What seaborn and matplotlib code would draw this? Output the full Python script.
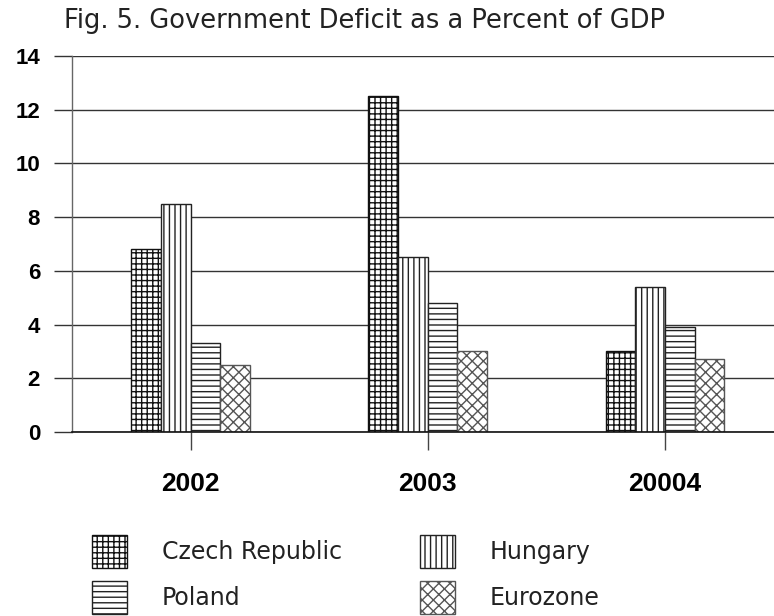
import matplotlib
matplotlib.use("Agg")
import matplotlib.pyplot as plt
import seaborn as sns
import pandas as pd

# Government deficit, % of GDP
years = ["2002", "2003", "20004"]
countries = ["Czech Republic", "Hungary", "Poland", "Eurozone"]
czech = [6.8, 12.5, 3.0]
hungary = [8.5, 6.5, 5.4]
poland = [3.3, 4.8, 3.9]
eurozone = [2.5, 3.0, 2.7]
yticks = [0, 2, 4, 6, 8, 10, 12, 14]

hatches = {"Czech Republic": "+++", "Hungary": "|||", "Poland": "---", "Eurozone": "xxx"}
edges = {"Czech Republic": "#111111", "Hungary": "#222222", "Poland": "#222222", "Eurozone": "#555555"}

series = {"Czech Republic": czech, "Hungary": hungary, "Poland": poland, "Eurozone": eurozone}
df = pd.DataFrame(
    [(y, c, series[c][i]) for c in countries for i, y in enumerate(years)],
    columns=["year", "country", "deficit"],
)

sns.set_theme(style="white")
plt.rcParams["hatch.linewidth"] = 1.0

fig = plt.figure(figsize=(7.74, 6.16), dpi=100)
ax = fig.add_axes([72 / 774, 1 - 432 / 616, 702 / 774, (432 - 56) / 616])

sns.barplot(
    data=df, x="year", y="deficit", hue="country", order=years, hue_order=countries,
    palette=["white"] * 4, width=0.5, gap=0, edgecolor="black", linewidth=1.0,
    legend=False, ax=ax, saturation=1,
)

for cont, name in zip(ax.containers, countries):
    for bar in cont:
        bar.set_hatch(hatches[name])
        bar.set_edgecolor(edges[name])
        bar.set_facecolor("white")

ax.set_xlim(-0.5, 2.46)
ax.set_ylim(0, 14)
ax.set_yticks(yticks)
ax.set_yticklabels([str(v) for v in yticks])
ax.set_xlabel("")
ax.set_ylabel("")

ax.yaxis.grid(True, color="#333333", linewidth=1.0)
ax.set_axisbelow(True)
for s in ["top", "right"]:
    ax.spines[s].set_visible(False)
ax.spines["left"].set_color("#666666")
ax.spines["left"].set_linewidth(1.0)
ax.spines["bottom"].set_color("#111111")
ax.spines["bottom"].set_linewidth(1.2)

ax.tick_params(axis="y", direction="out", length=13, width=1.0, color="#333333",
               pad=10, left=True)
ax.tick_params(axis="x", direction="out", length=13, width=1.0, color="#444444",
               pad=16, bottom=True)
for lab in ax.get_yticklabels():
    lab.set_fontfamily("Liberation Sans")
    lab.set_fontweight("bold")
    lab.set_fontsize(16)
    lab.set_color("black")
for lab in ax.get_xticklabels():
    lab.set_fontfamily("Liberation Sans")
    lab.set_fontweight("bold")
    lab.set_fontsize(19)
    lab.set_color("black")

fig.text(364 / 774, 1 - 21 / 616, "Fig. 5. Government Deficit as a Percent of GDP",
         ha="center", va="center", fontsize=18.5, family="DejaVu Sans", color="#222222")

handles = [ax.containers[i].patches[0] for i in range(4)]
order = [0, 2, 1, 3]
leg = fig.legend(
    [handles[i] for i in order], [countries[i] for i in order],
    loc="upper left", bbox_to_anchor=(92 / 774, 1 - 535 / 616), ncol=2,
    frameon=False, borderaxespad=0, borderpad=0,
    prop={"family": "DejaVu Sans", "size": 17},
    handlelength=1.48, handleheight=1.78, handletextpad=1.48,
    labelspacing=0.55, columnspacing=3.3,
)
for t in leg.get_texts():
    t.set_color("#222222")

fig.savefig("out.png", dpi=100)
